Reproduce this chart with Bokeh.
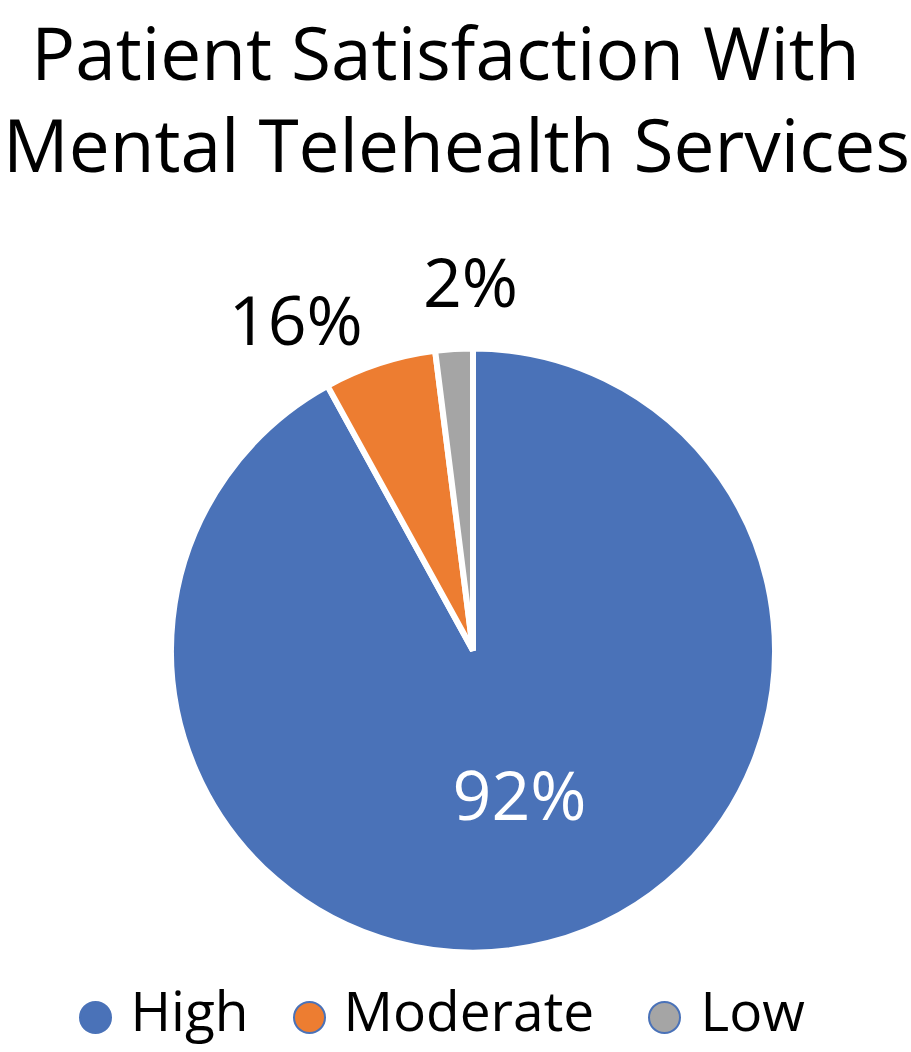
import math
from bokeh.plotting import figure
from bokeh.models import Range1d, ColumnDataSource
from bokeh.core.properties import value
from bokeh.embed import file_html
from bokeh.resources import INLINE

# ---- data ----
categories = ["High", "Moderate", "Low"]
shares = [92, 6, 2]                 # slice sizes (percent of the circle)
labels = ["92%", "16%", "2%"]       # label texts as printed on the chart
colors = ["#4A72B8", "#ED7D31", "#A5A5A5"]
title_lines = ["Patient Satisfaction With", "Mental Telehealth Services"]

# ---- layout (pixels, y measured from top) ----
W, H = 911, 1052
FONT = "Open Sans"
cx, cy_px, R = 472.5, 650, 302
BASE_FIX = 0.40   # empirical shift so that text baselines land where wanted
def Y(px):
    return H - px

p = figure(width=W, height=H, x_range=Range1d(0, W), y_range=Range1d(0, H),
           output_backend="svg", toolbar_location=None, min_border=0)
p.axis.visible = False
p.grid.visible = False
p.outline_line_color = None
p.background_fill_color = "white"
p.border_fill_color = "white"

# ---- wedges: start at 12 o'clock, go clockwise ----
total = float(sum(shares))
starts, ends, mids = [], [], []
acc = 0.0
for s in shares:
    a0 = math.pi / 2 - 2 * math.pi * acc / total
    acc += s
    a1 = math.pi / 2 - 2 * math.pi * acc / total
    starts.append(a0)
    ends.append(a1)
    mids.append((a0 + a1) / 2)

src = ColumnDataSource(dict(cat=categories, share=shares, start=starts, end=ends, color=colors))
p.wedge(x=cx, y=Y(cy_px), radius=R, start_angle="start", end_angle="end",
        direction="clock", fill_color="color", line_color="white", line_width=6, source=src)

# ---- data labels ----
LFS = 68
label_dist = [0.512, 1.25, 1.227]          # fraction of radius
label_turn = [3.3, 10.3, -3.2]             # degrees (ccw positive) nudge from mid-angle
label_color = ["white", "black", "black"]
lx, ly = [], []
for m, d, t in zip(mids, label_dist, label_turn):
    a = m + math.radians(t)
    lx.append(cx + d * 299 * math.cos(a))
    ly.append(Y(cy_px) + d * 299 * math.sin(a) - 24 + BASE_FIX * LFS)
lsrc = ColumnDataSource(dict(x=lx, y=ly, text=labels, color=label_color))
p.text(x="x", y="y", text="text", text_color="color", source=lsrc,
       text_font=value(FONT), text_font_size=f"{LFS}px", text_align="center",
       text_baseline="alphabetic")

# ---- title ----
TFS = 73
p.text(x=[445, 456], y=[Y(80) + BASE_FIX * TFS, Y(172) + BASE_FIX * TFS], text=title_lines,
       text_font=value(FONT), text_font_size=f"{TFS}px", text_color="black",
       text_align="center", text_baseline="alphabetic")

# ---- legend ----
GFS = 55
marker_x = [95, 309, 664]
text_x = [130, 343, 700]
p.scatter(x=marker_x, y=[Y(1017)] * 3, size=31, marker="circle",
          fill_color=colors, line_color="#4A72B8", line_width=2)
p.text(x=text_x, y=[Y(1031) + BASE_FIX * GFS] * 3, text=categories,
       text_font=value(FONT), text_font_size=f"{GFS}px", text_color="black",
       text_align="left", text_baseline="alphabetic")

html = file_html(p, INLINE)
html = html.replace("<head>", "<head><style>html,body{margin:0;padding:0;overflow:hidden;}</style>", 1)
open("out.html", "w").write(html)
